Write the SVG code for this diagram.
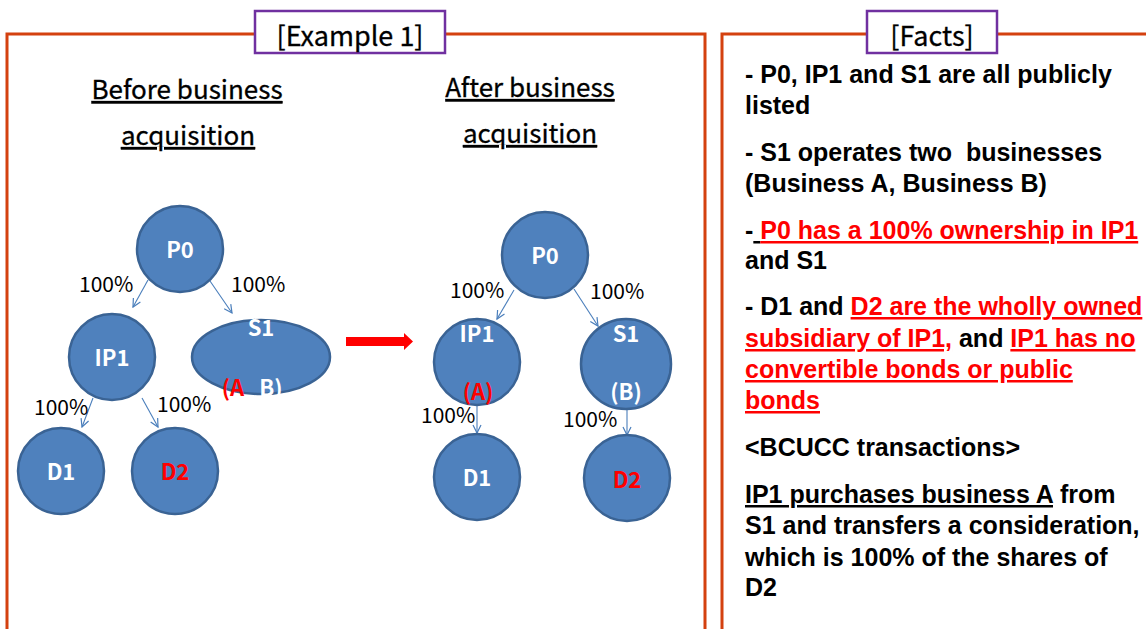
<svg xmlns="http://www.w3.org/2000/svg" width="1146" height="629" viewBox="0 0 1146 629">
  <style>
    .frame { fill: none; stroke: #d4410f; stroke-width: 3; }
    .tag { fill: #ffffff; stroke: #7030a0; stroke-width: 2.5; }
    .tagtxt { font-family: "Noto Sans CJK KR", "Noto Sans", sans-serif; font-size: 27px; fill: #000; text-anchor: middle; stroke: #000; stroke-width: 0.3; }
    .title { font-family: "Noto Sans CJK KR", "Noto Sans", sans-serif; font-size: 26px; fill: #000; text-decoration: underline; stroke: #000; stroke-width: 0.3; }
    .node { fill: #4f81bd; stroke: #3a6394; stroke-width: 2.5; }
    .ntxt { font-family: "Noto Sans CJK KR", "Noto Sans", sans-serif; font-weight: bold; font-size: 22px; fill: #ffffff; text-anchor: middle; }
    .pct { font-family: "Noto Sans CJK KR", "Noto Sans", sans-serif; font-size: 21px; fill: #000; }
    .link { fill: none; stroke: #4a7ebb; stroke-width: 1.1; marker-end: url(#vhead); }
    .fact { font-family: "Liberation Sans", Arial, sans-serif; font-weight: bold; font-size: 25px; fill: #000; }
    .u { text-decoration: underline; }
    .red { fill: #ff0000; }
  </style>
  <defs>
    <marker id="vhead" viewBox="0 0 10 10" refX="9" refY="5" markerWidth="10" markerHeight="10" orient="auto" markerUnits="userSpaceOnUse">
      <path d="M1,1 L9,5 L1,9" fill="none" stroke="#4a7ebb" stroke-width="1.2"/>
    </marker>
  </defs>

  <rect width="1146" height="629" fill="#ffffff"/>

  <!-- panel frames -->
  <g id="frames">
    <path class="frame" d="M7,640 V34 H705 V640"/>
    <path class="frame" d="M722,640 V34 H1160"/>
  </g>

  <!-- panel headings -->
  <g id="tag-example">
    <rect class="tag" x="255" y="11" width="190" height="42"/>
    <text class="tagtxt" x="350" y="46">[Example 1]</text>
  </g>
  <g id="tag-facts">
    <rect class="tag" x="867" y="11" width="130" height="42"/>
    <text class="tagtxt" x="932" y="46">[Facts]</text>
  </g>

  <!-- section titles -->
  <g id="titles">
    <text class="title" x="187" y="99" text-anchor="middle">Before business</text>
    <text class="title" x="188" y="145" text-anchor="middle">acquisition</text>
    <text class="title" x="530" y="97" text-anchor="middle">After business</text>
    <text class="title" x="530" y="143" text-anchor="middle">acquisition</text>
  </g>

  <!-- connectors -->
  <g id="connectors">
    <!-- before -->
    <line class="link" x1="148" y1="280" x2="133" y2="307"/>
    <line class="link" x1="210" y1="281" x2="232" y2="313"/>
    <line class="link" x1="93" y1="398" x2="82" y2="427"/>
    <line class="link" x1="142" y1="398" x2="158" y2="427"/>
    <!-- after -->
    <line class="link" x1="514" y1="290" x2="497" y2="319"/>
    <line class="link" x1="574" y1="289" x2="598" y2="326"/>
    <line class="link" x1="477" y1="403" x2="477" y2="433"/>
    <line class="link" x1="627" y1="408" x2="627" y2="435"/>
    <!-- transition -->
    <polygon points="346,337 404,337 404,333 413,341.5 404,350 404,346 346,346" fill="#ff0000"/>
  </g>

  <!-- ownership labels -->
  <g id="labels">
    <text class="pct" x="79" y="292">100%</text>
    <text class="pct" x="231" y="292">100%</text>
    <text class="pct" x="34" y="415">100%</text>
    <text class="pct" x="157" y="412">100%</text>
    <text class="pct" x="450" y="298">100%</text>
    <text class="pct" x="590" y="299">100%</text>
    <text class="pct" x="421" y="423">100%</text>
    <text class="pct" x="563" y="427">100%</text>
  </g>

  <!-- before acquisition -->
  <g id="b-p0">
    <circle class="node" cx="180" cy="249" r="43"/>
    <text class="ntxt" x="180" y="258">P0</text>
  </g>
  <g id="b-ip1">
    <circle class="node" cx="112" cy="357" r="43"/>
    <text class="ntxt" x="112" y="366">IP1</text>
  </g>
  <g id="b-s1">
    <ellipse class="node" cx="261" cy="357" rx="69" ry="37"/>
    <text class="ntxt" x="261" y="336">S1</text>
    <text class="ntxt red" x="233" y="396" text-anchor="start">(A</text>
    <text class="ntxt" x="271" y="396" text-anchor="start">B)</text>
  </g>
  <g id="b-d1">
    <circle class="node" cx="61" cy="471" r="43"/>
    <text class="ntxt" x="61" y="480">D1</text>
  </g>
  <g id="b-d2">
    <circle class="node" cx="175" cy="471" r="43"/>
    <text class="ntxt red" x="175" y="480">D2</text>
  </g>

  <!-- after acquisition -->
  <g id="a-p0">
    <circle class="node" cx="545" cy="255" r="43"/>
    <text class="ntxt" x="545" y="264">P0</text>
  </g>
  <g id="a-ip1">
    <circle class="node" cx="477" cy="362" r="43"/>
    <text class="ntxt" x="477" y="342">IP1</text>
    <text class="ntxt red" x="478" y="400">(A)</text>
  </g>
  <g id="a-s1">
    <circle class="node" cx="626" cy="364" r="45"/>
    <text class="ntxt" x="626" y="342">S1</text>
    <text class="ntxt" x="626" y="400">(B)</text>
  </g>
  <g id="a-d1">
    <circle class="node" cx="477" cy="477" r="43"/>
    <text class="ntxt" x="477" y="486">D1</text>
  </g>
  <g id="a-d2">
    <circle class="node" cx="627" cy="478" r="43"/>
    <text class="ntxt red" x="627" y="488">D2</text>
  </g>

  <!-- facts list -->
  <g id="facts">
    <text class="fact" x="745" y="83">- P0, IP1 and S1 are all publicly</text>
    <text class="fact" x="745" y="114">listed</text>
    <text class="fact" x="745" y="161">- S1 operates two&#160; businesses</text>
    <text class="fact" x="745" y="192">(Business A, Business B)</text>
    <text class="fact" x="745" y="239">-<tspan class="u"> </tspan><tspan class="red u">P0 has a 100% ownership in IP1</tspan></text>
    <text class="fact" x="745" y="269">and S1</text>
    <text class="fact" x="745" y="315">- D1 and <tspan class="red u">D2 are the wholly owned</tspan></text>
    <text class="fact" x="745" y="347"><tspan class="red u">subsidiary of IP1,</tspan> and <tspan class="red u">IP1 has no</tspan></text>
    <text class="fact" x="745" y="378"><tspan class="red u">convertible bonds or public</tspan></text>
    <text class="fact" x="745" y="409"><tspan class="red u">bonds</tspan></text>
    <text class="fact" x="745" y="456">&lt;BCUCC transactions&gt;</text>
    <text class="fact" x="745" y="503"><tspan class="u">IP1 purchases business A</tspan> from</text>
    <text class="fact" x="745" y="534">S1 and transfers a consideration,</text>
    <text class="fact" x="745" y="566">which is 100% of the shares of</text>
    <text class="fact" x="745" y="596">D2</text>
  </g>
</svg>
